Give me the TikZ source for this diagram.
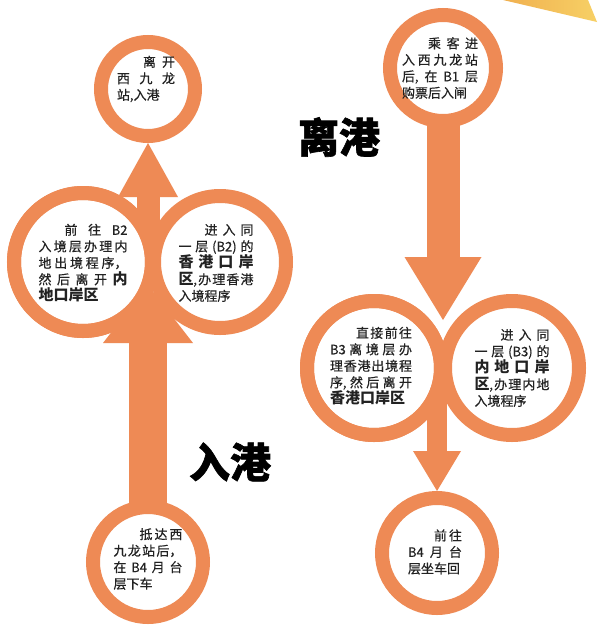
\documentclass[tikz,border=0pt]{standalone}
\usepackage{fontspec}
\usetikzlibrary{arrows.meta,calc,backgrounds}

\newfontfamily\cjk{Noto Sans CJK SC}[UprightFeatures={FakeBold=0.6}]
\newfontfamily\cjktitle{Noto Sans CJK SC}[BoldFeatures={FakeBold=1.5}]
\XeTeXlinebreaklocale "zh"
\XeTeXlinebreakskip=0pt plus 20pt

\newcommand{\portName}[1]{\hskip 0pt plus 20pt\relax{\fontsize{15}{16.5}\selectfont\bfseries #1}}

\begin{document}
\begin{tikzpicture}[x=1pt, y=-1pt,
    stop/.style={circle, draw=ringColour, fill=white, line width=14pt, minimum size=#1, inner sep=0pt},
    ringLine/.style={draw=ringColour, line width=14pt},
    stopText/.style={text width=#1, align=justify, inner sep=0pt, text=textColour,
        font=\cjk\fontsize{13}{16.5}\selectfont},
    title/.style={inner sep=0pt, text=black, font=\cjktitle\bfseries\fontsize{41}{41}\selectfont},
    flow/.style={draw=ringColour}]

    \definecolor{ringColour}{HTML}{EE8A55}
    \definecolor{textColour}{HTML}{222222}
    \definecolor{rayA}{HTML}{F0B050}
    \definecolor{rayB}{HTML}{F7D065}

    \useasboundingbox (0,0) rectangle (598,643);

    % Draw stops, left column (arriving)
    \node[stop=94pt]  (leave)   at (148,89)  {};
    \node[stop=138pt] (exitML)  at (83,262)  {};
    \node[stop=132pt] (enterHK) at (220,262) {};
    \draw[ringLine] (exitML.center) circle[radius=69pt];
    \node[stop=110pt] (arrive)  at (148,562) {};

    % Draw stops, right column (leaving)
    \node[stop=106pt] (board)   at (443,68)  {};
    \node[stop=134pt] (exitHK)  at (374,368) {};
    \node[stop=134pt] (enterML) at (512,368) {};
    \draw[ringLine] (exitHK.center) circle[radius=67pt];
    \node[stop=110pt] (back)    at (437,553) {};

    % Arrows behind the stops
    \begin{scope}[on background layer]
        \fill[white] (0,0) rectangle (598,643);
        \shade[left color=rayA, right color=rayB] (503,0) -- (588,0) -- (597,22) -- cycle;

        \coordinate (hkMid) at (arrive |- exitML);
        \coordinate (hkTip) at ($(hkMid)+(0,23)$);
        \draw[flow, line width=38pt, -{Triangle[length=58pt, width=90pt, line width=0pt]}] (arrive.center) -- (hkTip);
        \draw[flow, line width=23pt, -{Triangle[length=54pt, width=60pt, line width=0pt]}] (hkMid) -- (leave.south);

        \coordinate (mlMid) at (board |- exitHK);
        \coordinate (mlTip) at ($(mlMid)+(0,-48)$);
        \draw[flow, line width=33pt, -{Triangle[length=63pt, width=77pt, line width=0pt]}] (board.center) -- (mlTip);
        \draw[flow, line width=20pt, -{Triangle[length=40pt, width=48pt, line width=0pt]}] (back |- mlMid) -- (back.north);
    \end{scope}

    % Texts in the stops
    \node[stopText=58pt] (leaveTxt) at (146,79)
        {\hspace*{2em}离开\linebreak 西九龙\linebreak 站,入港};
    \node[stopText=89pt] (exitMLTxt) at (83,263)
        {\hspace*{2em}前往B2\linebreak 入境层办理内\linebreak 地出境程序，\linebreak 然后离开\portName{内}\linebreak \portName{地口岸区}};
    \node[stopText=75pt] (enterHKTxt) at (216,263)
        {\hspace*{2em}进入同\linebreak 一层(B2)的\linebreak \portName{香港口岸}\linebreak \portName{区},办理香港\linebreak 入境程序};
    \node[stopText=69pt] (arriveTxt) at (148,559)
        {\hspace*{2em}抵达西\linebreak 九龙站后，\linebreak 在B4月台\linebreak 层下车};

    \node[stopText=76pt] (boardTxt) at (440,68)
        {\hspace*{2em}乘客进\linebreak 入西九龙站\linebreak 后,在B1层\linebreak 购票后入闸};
    \node[stopText=82pt] (exitHKTxt) at (371,366)
        {\hspace*{2em}直接前往\linebreak B3离境层办\linebreak 理香港出境程\linebreak 序,然后离开\linebreak \portName{香港口岸区}};
    \node[stopText=75pt] (enterMLTxt) at (512,368)
        {\hspace*{2em}进入同\linebreak 一层(B3)的\linebreak \portName{内地口岸}\linebreak \portName{区},办理内地\linebreak 入境程序};
    \node[stopText=54pt] (backTxt) at (435,552)
        {\hspace*{2em}前往\linebreak B4月台\linebreak 层坐车回};

    % Titles
    \node[title] (leaveTitle) at (339,137) {离港};
    \node[title] (enterTitle) at (230,462) {入港};

\end{tikzpicture}
\end{document}
